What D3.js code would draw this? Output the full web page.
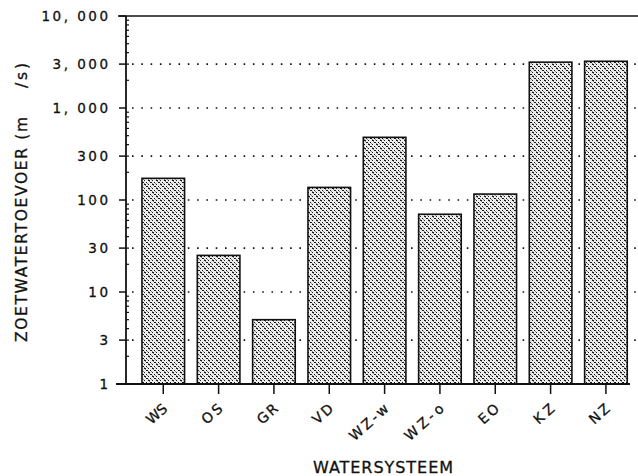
<!DOCTYPE html>
<html>
<head>
<meta charset="utf-8">
<script src="https://cdn.jsdelivr.net/npm/d3@7"></script>
<style>
  html, body { margin: 0; padding: 0; background: #fff; }
  svg { display: block; }
  text { font-family: "DejaVu Sans", "Liberation Sans", sans-serif; fill: #111; stroke: #111; stroke-width: 0.3; }
</style>
</head>
<body>
<svg id="chart" width="638" height="476"></svg>
<script>
// Freshwater supply per water system (m3/s), log scale
const categories = ["WS", "OS", "GR", "VD", "WZ-w", "WZ-o", "EO", "KZ", "NZ"];
const values = [172, 25, 5, 137, 480, 70, 116, 3150, 3220];
const tickValues = [1, 3, 10, 30, 100, 300, 1000, 3000, 10000];
const tickLabels = ["1", "3", "10", "30", "100", "300", "1, 000", "3, 000", "10, 000"];
const gridValues = [3, 10, 30, 100, 300, 1000, 3000];

const svg = d3.select("#chart");
const plotLeft = 126, plotTop = 16, plotBottom = 384;

const y = d3.scaleLog().domain([1, 10000]).range([plotBottom, plotTop]);
const x = d3.scaleBand().domain(categories).range([135.6, 633.6]).paddingInner(0.23).paddingOuter(0.115);

// stipple fill for the bars
const defs = svg.append("defs");
const pat = defs.append("pattern")
  .attr("id", "stipple").attr("patternUnits", "userSpaceOnUse")
  .attr("width", 8).attr("height", 8);
pat.append("rect").attr("width", 8).attr("height", 8).attr("fill", "#ececec");
const darkDots = [[0,0],[4,0],[2,2],[6,2],[0,4],[4,4],[2,6],[6,6],[1,0],[5,4],[3,2],[7,6]];
const greyDots = [[1,1],[5,5],[3,7],[7,3],[0,7],[4,3]];
darkDots.forEach(d => pat.append("rect").attr("x", d[0]).attr("y", d[1])
  .attr("width", 1).attr("height", 1).attr("fill", "#1a1a1a"));
greyDots.forEach(d => pat.append("rect").attr("x", d[0]).attr("y", d[1])
  .attr("width", 1).attr("height", 1).attr("fill", "#888"));

// dotted grid lines
svg.append("g").selectAll("line").data(gridValues).join("line")
  .attr("x1", plotLeft + 6).attr("x2", 637)
  .attr("y1", d => y(d)).attr("y2", d => y(d))
  .attr("stroke", "#111").attr("stroke-width", 1.6)
  .attr("stroke-dasharray", "1.6,7.7");

// bars
svg.append("g").selectAll("rect").data(categories).join("rect")
  .attr("x", d => x(d))
  .attr("width", x.bandwidth())
  .attr("y", (d, i) => y(values[i]))
  .attr("height", (d, i) => y(1) - y(values[i]))
  .attr("fill", "url(#stipple)")
  .attr("stroke", "#111").attr("stroke-width", 1.6);

// frame lines
svg.append("line").attr("x1", 118).attr("x2", 638).attr("y1", plotTop).attr("y2", plotTop)
  .attr("stroke", "#111").attr("stroke-width", 1.5);
svg.append("line").attr("x1", 116).attr("x2", 630).attr("y1", plotBottom).attr("y2", plotBottom)
  .attr("stroke", "#111").attr("stroke-width", 1.8);
svg.append("line").attr("x1", plotLeft).attr("x2", plotLeft).attr("y1", plotTop).attr("y2", plotBottom)
  .attr("stroke", "#111").attr("stroke-width", 1.8);

// y axis ticks
const minor = [];
for (let p = 1; p < 10000; p *= 10) for (let m = 2; m <= 9; m++) minor.push(p * m);
const yAxisG = svg.append("g");
yAxisG.selectAll("line.minor").data(minor).join("line").attr("class", "minor")
  .attr("x1", plotLeft).attr("x2", plotLeft + 3)
  .attr("y1", d => y(d)).attr("y2", d => y(d))
  .attr("stroke", "#111").attr("stroke-width", 1.2);
yAxisG.selectAll("line.major").data(tickValues).join("line").attr("class", "major")
  .attr("x1", plotLeft - 7).attr("x2", plotLeft)
  .attr("y1", d => y(d)).attr("y2", d => y(d))
  .attr("stroke", "#111").attr("stroke-width", 1.5);
yAxisG.selectAll("text").data(tickValues).join("text")
  .attr("x", 110.5).attr("y", d => y(d) + 5)
  .attr("text-anchor", "end")
  .attr("font-size", 13.5).attr("letter-spacing", 2.5)
  .text((d, i) => tickLabels[i]);

// x axis ticks and labels
const xg = svg.append("g");
xg.selectAll("line").data(categories).join("line")
  .attr("x1", d => x(d) + x.bandwidth() / 2).attr("x2", d => x(d) + x.bandwidth() / 2)
  .attr("y1", plotBottom).attr("y2", plotBottom + 10)
  .attr("stroke", "#111").attr("stroke-width", 1.5);
xg.selectAll("text").data(categories).join("text")
  .attr("transform", d => `translate(${x(d) + x.bandwidth() / 2 + 5},${plotBottom + 26}) rotate(-42)`)
  .attr("text-anchor", "end")
  .attr("font-size", 14)
  .attr("textLength", d => d.length * 12.3 - 2)
  .text(d => d);

// y axis title; the gap leaves room for the unit exponent
svg.append("text")
  .attr("transform", `translate(27,342) rotate(-90)`)
  .attr("text-anchor", "start").attr("font-size", 15.5)
  .attr("textLength", 225)
  .text("ZOETWATERTOEVOER (m");
svg.append("text")
  .attr("transform", `translate(27,88) rotate(-90)`)
  .attr("text-anchor", "start").attr("font-size", 15.5)
  .attr("textLength", 25)
  .text("/s)");

// x axis title
svg.append("text")
  .attr("x", 383).attr("y", 473)
  .attr("text-anchor", "middle").attr("font-size", 16)
  .attr("textLength", 140)
  .text("WATERSYSTEEM");
</script>
</body>
</html>
